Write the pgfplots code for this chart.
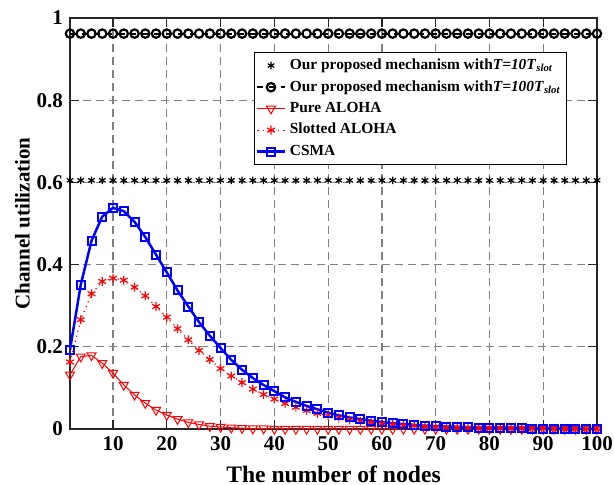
\documentclass[border=0pt]{standalone}
\usepackage{pgfplots}
\usepackage{pgfplotstable}
\usepackage{fontspec}
\setmainfont{Liberation Serif}
\pgfplotsset{compat=1.18}

% channel utilization vs number of nodes
\pgfplotstableread{
n   t10   t100  pure   slotted csma
2   0.605 0.962 0.132  0.163   0.193
4   0.605 0.962 0.176  0.266   0.351
6   0.605 0.962 0.179  0.329   0.458
8   0.605 0.962 0.160  0.359   0.517
10  0.605 0.962 0.136  0.367   0.538
12  0.605 0.962 0.107  0.362   0.530
14  0.605 0.962 0.083  0.345   0.504
16  0.605 0.962 0.063  0.324   0.467
18  0.605 0.962 0.046  0.298   0.424
20  0.605 0.962 0.034  0.272   0.381
22  0.605 0.962 0.024  0.244   0.337
24  0.605 0.962 0.016  0.217   0.298
26  0.605 0.962 0.011  0.191   0.260
28  0.605 0.962 0.007  0.169   0.227
30  0.605 0.962 0.005  0.147   0.197
32  0.605 0.962 0.003  0.129   0.168
34  0.605 0.962 0.002  0.113   0.144
36  0.605 0.962 0.001  0.097   0.124
38  0.605 0.962 0.001  0.084   0.107
40  0.605 0.962 0.000  0.073   0.092
42  0.605 0.962 0.000  0.062   0.077
44  0.605 0.962 0.000  0.053   0.066
46  0.605 0.962 0.000  0.045   0.056
48  0.605 0.962 0.000  0.038   0.048
50  0.605 0.962 0.000  0.032   0.040
52  0.605 0.962 0.000  0.027   0.033
54  0.605 0.962 0.000  0.022   0.028
56  0.605 0.962 0.000  0.019   0.024
58  0.605 0.962 0.000  0.016   0.020
60  0.605 0.962 0.000  0.013   0.017
62  0.605 0.962 0.000  0.011   0.014
64  0.605 0.962 0.000  0.009   0.012
66  0.605 0.962 0.000  0.008   0.010
68  0.605 0.962 0.000  0.006   0.008
70  0.605 0.962 0.000  0.005   0.007
72  0.605 0.962 0.000  0.004   0.006
74  0.605 0.962 0.000  0.004   0.005
76  0.605 0.962 0.000  0.003   0.004
78  0.605 0.962 0.000  0.002   0.003
80  0.605 0.962 0.000  0.002   0.003
82  0.605 0.962 0.000  0.002   0.002
84  0.605 0.962 0.000  0.001   0.002
86  0.605 0.962 0.000  0.001   0.002
88  0.605 0.962 0.000  0.001   0.001
90  0.605 0.962 0.000  0.001   0.001
92  0.605 0.962 0.000  0.000   0.001
94  0.605 0.962 0.000  0.000   0.001
96  0.605 0.962 0.000  0.000   0.001
98  0.605 0.962 0.000  0.000   0.000
100 0.605 0.962 0.000  0.000   0.000
}\util

\begin{document}
\begin{tikzpicture}
\begin{axis}[
    width=263.5pt, height=205.5pt, scale only axis,
    xmin=2, xmax=100, ymin=0, ymax=1,
    xtick={10,20,...,100},
    ytick={0,0.2,0.4,0.6,0.8,1},
    grid=major,
    major grid style={black!50, dash pattern=on 4pt off 2.5pt, line width=0.6pt},
    axis line style={line width=0.8pt, black!85},
    tick style={black!85, line width=0.6pt},
    tick label style={font=\fontsize{10.5}{11}\selectfont\bfseries},
    /pgf/number format/assume math mode=true,
    xlabel={The number of nodes},
    ylabel={Channel utilization},
    xlabel style={font=\fontsize{11.8}{12}\selectfont\bfseries,
        at={(axis description cs:0.5,-0.11)}, anchor=center},
    ylabel style={font=\fontsize{10.5}{11}\selectfont\bfseries,
        at={(axis description cs:-0.09,0.5)}, anchor=center},
    legend style={at={(0.944,0.917)}, anchor=north east,
        font=\fontsize{7.7}{9}\selectfont\bfseries,
        draw=black, line width=0.6pt, inner sep=1pt, row sep=0pt},
    legend cell align=left,
    legend image code/.code={
        \draw[mark repeat=2, mark phase=2, #1]
            plot coordinates {(0cm,0cm) (0.24cm,0cm) (0.48cm,0cm)};},
]
    \addplot[only marks, black, mark=asterisk, mark size=1.9pt, line width=0.6pt]
        table[x=n, y=t10] {\util};
    \addplot[black, dashed, line width=1pt, mark=o, mark size=2.1pt,
        mark options={solid, line width=1.1pt}]
        table[x=n, y=t100] {\util};
    \addplot[red, line width=0.5pt, mark=triangle, mark size=2.6pt,
        mark options={solid, rotate=180}]
        table[x=n, y=pure] {\util};
    \addplot[red, dotted, line width=0.6pt, mark=asterisk, mark size=2.2pt,
        mark options={solid}]
        table[x=n, y=slotted] {\util};
    \addplot[blue, line width=1.25pt, mark=square, mark size=2pt,
        mark options={solid, fill=blue!15, line width=1pt}]
        table[x=n, y=csma] {\util};

    \legend{Our proposed mechanism with\textit{T=10T}\textsubscript{\textit{slot}},
        Our proposed mechanism with\textit{T=100T}\textsubscript{\textit{slot}},
        Pure ALOHA, Slotted ALOHA, CSMA}
\end{axis}
\pgfresetboundingbox
\path ([shift={(-35pt,-28pt)}]current axis.south west)
    rectangle ([shift={(8.5pt,9pt)}]current axis.north east);
\end{tikzpicture}
\end{document}
